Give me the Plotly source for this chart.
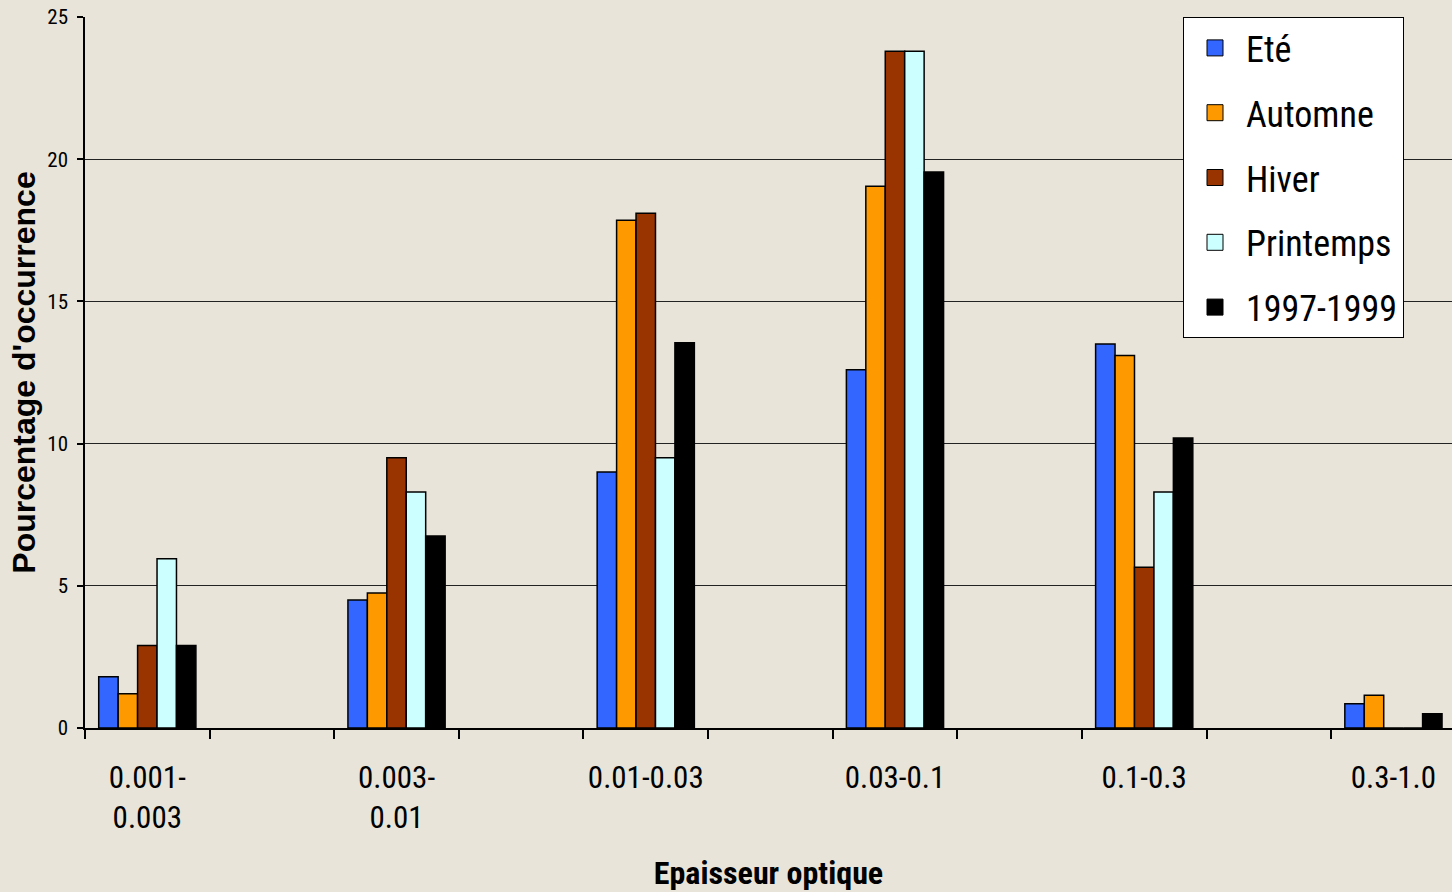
import plotly.graph_objects as go

# Optical thickness classes and seasonal occurrence percentages
categories = ["0.001-<br>0.003", "0.003-<br>0.01", "0.01-0.03", "0.03-0.1", "0.1-0.3", "0.3-1.0"]
series_names = ["Eté", "Automne", "Hiver", "Printemps", "1997-1999"]
ete = [1.8, 4.5, 9.0, 12.6, 13.5, 0.85]
automne = [1.2, 4.75, 17.85, 19.05, 13.1, 1.15]
hiver = [2.9, 9.5, 18.1, 23.8, 5.65, 0.0]
printemps = [5.95, 8.3, 9.5, 23.8, 8.3, 0.0]
periode = [2.9, 6.75, 13.55, 19.55, 10.2, 0.5]
y_ticks = [0, 5, 10, 15, 20, 25]

colors = ["#3366FF", "#FF9900", "#993300", "#CCFFFF", "#000000"]
values = [ete, automne, hiver, printemps, periode]

x_pos = list(range(len(categories)))
narrow = "Roboto Condensed, Liberation Sans Narrow, Arial Narrow, sans-serif"
bg = "#E8E4D9"

fig = go.Figure()
for name, vals, col in zip(series_names, values, colors):
    fig.add_trace(go.Bar(
        x=x_pos, y=vals, name=name, showlegend=False,
        marker=dict(color=col, line=dict(color="#000000", width=1.5)),
    ))

# legend entries with larger square swatches
for i, (name, col) in enumerate(zip(series_names, colors)):
    fig.add_trace(go.Scatter(
        x=[None], y=[None], mode="markers", name=name,
        legendgroup=f"g{i}",
        marker=dict(symbol="square", size=20, color=col,
                    line=dict(color="#000000", width=1)),
    ))

# tick marks between categories
boundaries = [p + d for p in x_pos for d in (-0.25, 0.25)]

fig.update_layout(
    width=1452, height=892,
    margin=dict(l=85, r=0, t=17, b=164),
    paper_bgcolor=bg, plot_bgcolor=bg,
    barmode="group", bargap=0.61, bargroupgap=0,
    font=dict(family=narrow, color="#000000"),
    legend=dict(
        x=(1183 - 85) / 1367, y=1, xanchor="left", yanchor="top",
        bgcolor="#FFFFFF", bordercolor="#000000", borderwidth=1,
        font=dict(family=narrow, size=36, color="#000000"),
        traceorder="grouped", tracegroupgap=15, itemwidth=52,
    ),
    xaxis=dict(
        range=[-0.25, 5.235],
        tickmode="array", tickvals=x_pos, ticktext=categories,
        ticks="", showgrid=False, zeroline=False,
        showline=True, linecolor="#000000", linewidth=1.5,
        tickfont=dict(family=narrow, size=31),
        ticklabelstandoff=21,
        minor=dict(tickmode="array", tickvals=boundaries, ticks="outside",
                   ticklen=9, tickwidth=1.5, tickcolor="#000000", showgrid=False),
        title=dict(text="<b>Epaisseur optique</b>", standoff=27,
                   font=dict(family=narrow, size=32)),
    ),
    yaxis=dict(
        range=[0, 25], tickmode="array", tickvals=y_ticks,
        ticks="outside", ticklen=6, tickcolor="#000000", tickwidth=1.5,
        showgrid=True, gridcolor="#222222", gridwidth=1.2,
        zeroline=False, showline=True, linecolor="#000000", linewidth=1.5,
        tickfont=dict(family=narrow, size=21),
        ticklabelstandoff=5,
        title=dict(text="<b>Pourcentage d'occurrence</b>", standoff=2,
                   font=dict(family="Liberation Sans, Arial, sans-serif", size=32)),
    ),
)

fig.write_html("out.html")
